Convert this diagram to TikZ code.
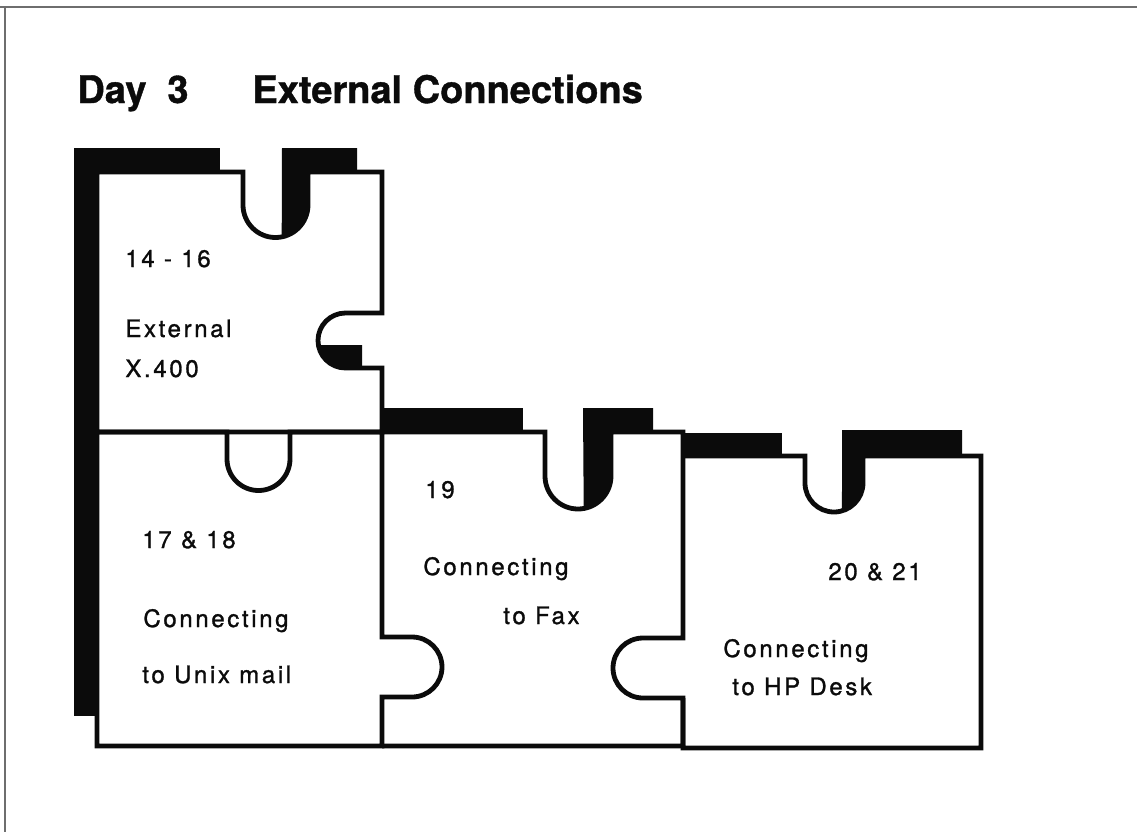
\documentclass[tikz,border=0pt]{standalone}
\usepackage{fontspec}
\setmainfont{TeX Gyre Heros}
\usetikzlibrary{positioning}
\definecolor{ink}{HTML}{0B0B0B}
\definecolor{rule}{HTML}{6E6E6E}

\begin{document}
\begin{tikzpicture}[x=0.5pt,y=-0.5pt,
  piece/.style={draw=ink,line width=2.4pt,line join=miter},
  blk/.style={fill=ink},
  txt/.style={anchor=base west,inner sep=0pt,text=ink,
              font=\fontsize{12}{14}\selectfont\addfontfeature{LetterSpace=11,FakeBold=1.2}},
  head/.style={anchor=base west,inner sep=0pt,text=ink,
               font=\fontsize{19}{22}\selectfont\bfseries\addfontfeature{FakeBold=1}},
]
\useasboundingbox (0,0) rectangle (1137,832);
% page frame
\draw[rule,line width=0.8pt] (0,7) -- (1137,7);
\draw[rule,line width=0.8pt] (5,7) -- (5,832);

% heading
\node[head] (day) at (77,103) {Day\hspace{0.55em}3};
\node[head] (ttl) at (252,103) {External Connections};

% black edges (drawn first, outlines go on top)
\fill[blk] (74,148) rectangle (97,716);
\fill[blk] (74,148) rectangle (220,172);
\fill[blk] (282,148) -- (357,148) -- (357,172) -- (308,172) -- (308,205)
  arc[start angle=0,end angle=79,radius=32.5] -- cycle;
\fill[blk] (362,345) -- (362,368) -- (345.5,368)
  arc[start angle=90,end angle=170.6,radius=27.5] -- cycle;
\fill[blk] (383,408) rectangle (523,432);
\fill[blk] (583,408) -- (653,408) -- (653,432) -- (611,432) -- (611,476)
  arc[start angle=0,end angle=80,radius=33] -- cycle;
\fill[blk] (683,433) rectangle (782,456);
\fill[blk] (842,430) -- (962,430) -- (962,456) -- (863,456) -- (863,483)
  arc[start angle=0,end angle=74,radius=29] -- cycle;

% pieces
\draw[piece] (97,172) -- (243,172) -- (243,205)
  arc[start angle=180,end angle=0,radius=32.5] -- (308,172) -- (382,172)
  -- (382,313) -- (345.5,313) arc[start angle=270,end angle=90,radius=27.5]
  -- (382,368) -- (382,432) -- (97,432) -- cycle;
\draw[piece] (97,432) -- (227,432) -- (227,459)
  arc[start angle=180,end angle=0,radius=31.5] -- (290,432) -- (382,432)
  -- (382,637) -- (412,637) arc[start angle=-90,end angle=90,radius=30]
  -- (382,697) -- (382,746) -- (97,746) -- cycle;
\draw[piece] (382,432) -- (545,432) -- (545,476)
  arc[start angle=180,end angle=0,radius=33] -- (611,432) -- (683,432)
  -- (683,638) -- (643,638) arc[start angle=270,end angle=90,radius=30]
  -- (683,698) -- (683,746) -- (382,746);
\draw[piece] (683,456) -- (805,456) -- (805,483)
  arc[start angle=180,end angle=0,radius=29] -- (863,456) -- (981,456)
  -- (981,748) -- (683,748) -- (683,698);

% piece texts
\node[txt] (p1a) at (125,267) {14 - 16};
\node[txt] (p1b) at (125,337) {External};
\node[txt] (p1c) at (125,377) {X.400};
\node[txt] (p2a) at (142,548) {17 \& 18};
\node[txt] (p2b) at (143,627) {Connecting};
\node[txt] (p2c) at (142,683) {to Unix mail};
\node[txt] (p3a) at (425,498) {19};
\node[txt] (p3b) at (423,575) {Connecting};
\node[txt] (p3c) at (503,624) {to Fax};
\node[txt] (p4a) at (828,580) {20 \& 21};
\node[txt] (p4b) at (723,657) {Connecting};
\node[txt] (p4c) at (732,695) {to HP Desk};
\end{tikzpicture}
\end{document}
